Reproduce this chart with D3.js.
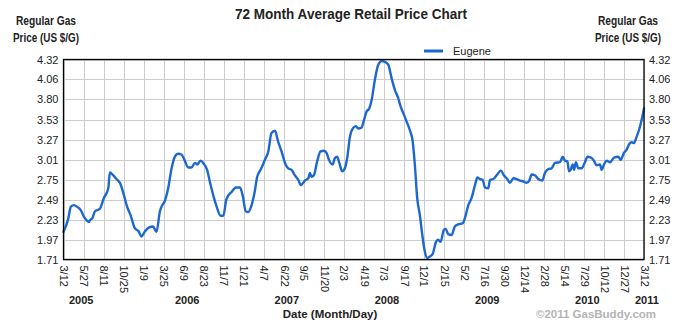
<!DOCTYPE html>
<html>
<head>
<meta charset="utf-8">
<script src="https://cdn.jsdelivr.net/npm/d3@7"></script>
<style>
  html, body { margin: 0; padding: 0; background: #fff; }
  svg { display: block; }
  text { font-family: "Liberation Sans", Arial, sans-serif; }
</style>
</head>
<body>
<svg id="chart" width="692" height="336"></svg>
<script>
// ---------- data ----------
const startDate = "2005-03-12";
// day offsets from startDate
const days = [0,17,28,39,51,64,77,97,99,109,119,137,152,169,175,187,200,213,228,240,253,269,284,294,307,323,338,351,364,370,382,395,408,420,433,445,454,471,483,496,505,517,527,542,552,565,578,593,603,615,634,651,666,676,688,697,710,722,731,744,760,773,785,798,810,823,836,848,861,873,886,896,911,924,930,936,945,958,970,983,993,1002,1016,1024,1033,1041,1052,1062,1071,1081,1094,1104,1112,1125,1134,1144,1154,1163,1175,1188,1201,1213,1226,1238,1251,1263,1272,1285,1295,1307,1318,1326,1335,1345,1355,1364,1373,1383,1393,1406,1414,1423,1436,1443,1452,1465,1477,1490,1506,1515,1528,1540,1553,1562,1572,1582,1591,1603,1610,1622,1635,1651,1662,1675,1685,1698,1710,1723,1735,1748,1758,1767,1779,1792,1807,1817,1830,1842,1855,1874,1884,1893,1902,1908,1914,1922,1927,1934,1943,1956,1968,1978,1991,2002,2012,2025,2031,2040,2050,2063,2078,2094,2103,2115,2125,2136,2144,2153,2163,2173,2182,2191];
const prices = [2.07,2.23,2.40,2.42,2.40,2.36,2.27,2.20,2.22,2.25,2.34,2.37,2.51,2.64,2.845,2.81,2.76,2.71,2.55,2.40,2.29,2.12,2.075,2.01,2.075,2.13,2.14,2.07,2.34,2.40,2.47,2.64,2.90,3.05,3.09,3.08,3.03,2.91,2.91,2.97,2.95,3.00,2.97,2.88,2.73,2.55,2.40,2.28,2.28,2.50,2.59,2.65,2.65,2.55,2.34,2.33,2.42,2.60,2.79,2.88,3.01,3.12,3.36,3.39,3.25,3.12,2.97,2.90,2.88,2.81,2.75,2.68,2.74,2.77,2.84,2.79,2.81,3.00,3.12,3.13,3.10,3.01,2.95,3.03,3.05,2.97,2.86,2.90,3.04,3.31,3.43,3.45,3.42,3.43,3.53,3.64,3.68,3.79,4.05,4.25,4.30,4.29,4.25,4.08,3.92,3.82,3.71,3.60,3.51,3.40,3.25,2.95,2.51,2.29,2.01,1.81,1.73,1.75,1.78,1.94,1.97,1.94,2.10,2.11,2.04,2.03,2.14,2.17,2.18,2.25,2.42,2.51,2.68,2.78,2.76,2.75,2.65,2.64,2.75,2.76,2.81,2.87,2.81,2.76,2.71,2.77,2.76,2.74,2.73,2.71,2.74,2.82,2.81,2.76,2.74,2.84,2.89,2.90,2.97,2.98,3.05,3.00,2.99,2.86,2.88,2.95,2.88,2.98,2.90,2.90,2.98,3.05,3.04,3.00,2.94,2.95,2.88,2.95,3.00,2.98,3.04,3.05,3.01,3.10,3.14,3.22,3.24,3.23,3.31,3.41,3.53,3.68];
const seriesName = "Eugene";
const yTicks = [1.71,1.97,2.23,2.49,2.75,3.01,3.27,3.53,3.80,4.06,4.32];
const tickDates = ["2005-03-12","2005-05-27","2005-08-11","2005-10-25","2006-01-09","2006-03-25","2006-06-09","2006-08-23","2006-11-07","2007-01-21","2007-04-07","2007-06-22","2007-09-05","2007-11-20","2008-02-03","2008-04-19","2008-07-03","2008-09-17","2008-12-01","2009-02-15","2009-05-02","2009-07-16","2009-09-30","2009-12-14","2010-02-28","2010-05-14","2010-07-29","2010-10-12","2010-12-27","2011-03-12"];
const years = ["2005","2006","2007","2008","2009","2010","2011"];
const yearDates = ["2005-05-18","2006-06-22","2007-07-03","2008-07-15","2009-07-28","2010-08-10","2011-03-23"];
const title = "72 Month Average Retail Price Chart";
const yTitle = ["Regular Gas","Price (US $/G)"];
const xTitle = "Date (Month/Day)";
const credit = "\u00A92011 GasBuddy.com";

// ---------- layout ----------
const L = 63.5, R = 644, T = 59.5, B = 259.5;
const parse = d3.timeParse("%Y-%m-%d");
const fmt = d3.timeFormat("%-m/%-d");
const t0 = parse(startDate);
const data = days.map((d, i) => ({date: d3.timeDay.offset(t0, d), value: prices[i]}));
const tickList = tickDates.map(parse);

const x = d3.scaleTime().domain([tickList[0], tickList[tickList.length - 1]]).range([L, R]);
const y = d3.scaleLinear().domain([1.71, 4.32]).range([B, T]);

const svg = d3.select("#chart");

// grid
const grid = svg.append("g");
grid.selectAll("line.h").data(yTicks).join("line")
  .attr("x1", L).attr("x2", R)
  .attr("y1", d => Math.round(y(d)) + 0.5).attr("y2", d => Math.round(y(d)) + 0.5)
  .attr("stroke", "#cccccc").attr("stroke-width", 1);
grid.selectAll("line.v").data(tickList).join("line")
  .attr("y1", T).attr("y2", B)
  .attr("x1", d => Math.round(x(d)) + 0.5).attr("x2", d => Math.round(x(d)) + 0.5)
  .attr("stroke", "#cccccc").attr("stroke-width", 1);

// line
const line = d3.line().x(d => x(d.date)).y(d => y(d.value)).curve(d3.curveMonotoneX);
svg.append("path").datum(data)
  .attr("d", line)
  .attr("fill", "none")
  .attr("stroke", "#1c68cf")
  .attr("stroke-width", 2.4)
  .attr("stroke-linejoin", "round")
  .attr("stroke-linecap", "round");

// frame
svg.append("rect").attr("x", L).attr("y", T).attr("width", R - L).attr("height", B - T)
  .attr("fill", "none").attr("stroke", "#000").attr("stroke-width", 1.3);

// y axes (labels via d3 axes)
const yAxisL = d3.axisLeft(y).tickValues(yTicks).tickFormat(d => d.toFixed(2)).tickSize(0).tickPadding(5);
const yAxisR = d3.axisRight(y).tickValues(yTicks).tickFormat(d => d.toFixed(2)).tickSize(0).tickPadding(5);
[svg.append("g").attr("transform", `translate(${L},0)`).call(yAxisL),
 svg.append("g").attr("transform", `translate(${R},0)`).call(yAxisR)].forEach(g => {
  g.select(".domain").remove();
  g.selectAll("text").attr("font-size", 11).attr("fill", "#222")
    .attr("font-family", "'Liberation Sans', Arial, sans-serif");
});

// x axis labels rotated
const xAxis = d3.axisBottom(x).tickValues(tickList).tickFormat(fmt).tickSize(0).tickPadding(0);
const gx = svg.append("g").attr("transform", `translate(0,${B})`).call(xAxis);
gx.select(".domain").remove();
gx.selectAll("text")
  .attr("font-size", 11).attr("fill", "#222")
  .attr("font-family", "'Liberation Sans', Arial, sans-serif")
  .attr("text-anchor", "start")
  .attr("transform", "rotate(90)")
  .attr("x", 6).attr("y", 0).attr("dy", "0.35em");

// year labels
svg.append("g").selectAll("text").data(years).join("text")
  .attr("x", (d, i) => x(parse(yearDates[i])))
  .attr("y", 304)
  .attr("text-anchor", "middle")
  .attr("font-size", 11).attr("font-weight", "bold").attr("fill", "#222")
  .text(d => d);

// title
svg.append("text").attr("x", 351).attr("y", 18.5).attr("text-anchor", "middle")
  .attr("font-size", 14).attr("font-weight", "bold").attr("fill", "#222")
  .attr("textLength", 232).attr("lengthAdjust", "spacingAndGlyphs")
  .text(title);

// axis titles
const yTitleWidths = [60, 66];
[46, 628].forEach(cx => {
  yTitle.forEach((t, i) => {
    svg.append("text").attr("x", cx).attr("y", 25 + i * 17).attr("text-anchor", "middle")
      .attr("font-size", 12).attr("font-weight", "bold").attr("fill", "#222")
      .attr("textLength", yTitleWidths[i]).attr("lengthAdjust", "spacingAndGlyphs")
      .text(t);
  });
});

svg.append("text").attr("x", 330).attr("y", 318).attr("text-anchor", "middle")
  .attr("font-size", 11.5).attr("font-weight", "bold").attr("fill", "#222")
  .text(xTitle);

svg.append("text").attr("x", 596).attr("y", 318).attr("text-anchor", "middle")
  .attr("font-size", 11.5).attr("font-weight", "bold").attr("fill", "#b4b4b4")
  .text(credit);

// legend
svg.append("line").attr("x1", 424).attr("x2", 443).attr("y1", 51).attr("y2", 51)
  .attr("stroke", "#1c68cf").attr("stroke-width", 3);
svg.append("text").attr("x", 453).attr("y", 55)
  .attr("font-size", 11).attr("fill", "#222").text(seriesName);
</script>
</body>
</html>
